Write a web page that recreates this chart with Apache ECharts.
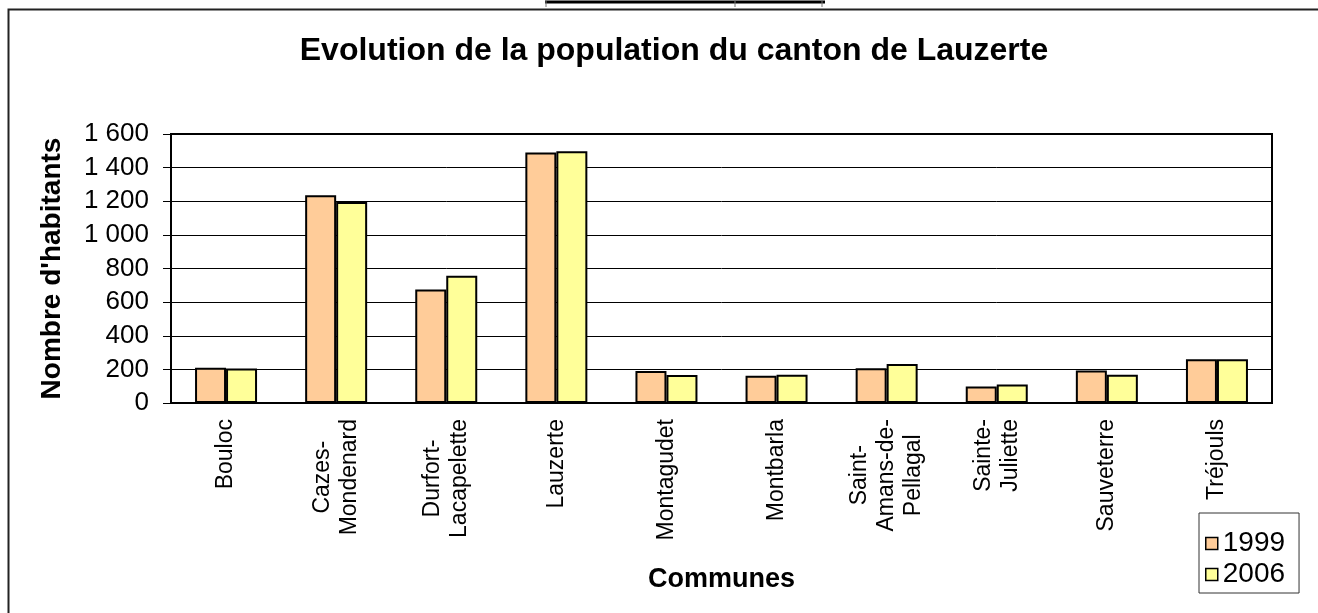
<!DOCTYPE html>
<html>
<head>
<meta charset="utf-8">
<title>Evolution de la population du canton de Lauzerte</title>
<script src="https://cdn.jsdelivr.net/npm/echarts@6/dist/echarts.min.js"></script>
<style>
  html, body { margin: 0; padding: 0; background: #fff; }
  #main { width: 1318px; height: 613px; }
</style>
</head>
<body>
<div id="main"></div>
<script>
  // communes (retour à la ligne comme dans le graphique d'origine)
  var communes = ['Bouloc', 'Cazes-\nMondenard', 'Durfort-\nLacapelette', 'Lauzerte', 'Montagudet',
    'Montbarla', 'Saint-\nAmans-de-\nPellagal', 'Sainte-\nJuliette', 'Sauveterre', 'Tréjouls'];
  // nombre d'habitants
  var pop1999 = [210, 1235, 675, 1490, 190, 162, 206, 98, 194, 260];
  var pop2006 = [205, 1195, 757, 1498, 166, 168, 232, 110, 168, 260];
  var annees = ['1999', '2006'];
  var yMin = 0, yMax = 1600, yStep = 200;

  var police = '"Liberation Sans", Arial, sans-serif';

  // 1600 -> "1 600"
  function milliers(v) {
    if (v < 1000) return String(v);
    var r = String(v % 1000);
    while (r.length < 3) r = '0' + r;
    return Math.floor(v / 1000) + ' ' + r;
  }

  var myChart = echarts.init(document.getElementById('main'));
  myChart.setOption({
    backgroundColor: '#fff',
    animation: false,
    title: {
      text: 'Evolution de la population du canton de Lauzerte',
      left: 669,
      top: 30,
      textAlign: 'center',
      textStyle: { fontFamily: police, fontSize: 32, fontWeight: 'bold', color: '#000' }
    },
    legend: {
      orient: 'vertical',
      left: 1199,
      top: 513,
      padding: [16, 14, 4, 6],
      itemGap: 2,
      itemWidth: 12,
      itemHeight: 12,
      borderColor: '#333',
      borderWidth: 1,
      icon: 'rect',
      itemStyle: { borderColor: '#000', borderWidth: 1.5 },
      textStyle: { fontFamily: police, fontSize: 28, color: '#000', lineHeight: 29 },
      data: annees
    },
    grid: {
      left: 171, right: 46, top: 134, bottom: 210,
      show: true,
      borderColor: '#000',
      borderWidth: 2
    },
    xAxis: {
      type: 'category',
      data: communes,
      name: 'Communes',
      nameLocation: 'middle',
      nameGap: 163,
      nameTextStyle: { fontFamily: police, fontSize: 27, fontWeight: 'bold', color: '#000' },
      axisLine: { lineStyle: { color: '#000', width: 2 } },
      axisTick: { length: 7, lineStyle: { color: '#333' } },
      axisLabel: {
        rotate: 90,
        margin: 16,
        interval: 0,
        color: '#000',
        fontFamily: police,
        fontSize: 23,
        lineHeight: 27,
        formatter: function (v) {
          return v.split('\n').map(function (s) { return '{c|' + s + '}'; }).join('\n');
        },
        rich: {
          c: { align: 'center', fontFamily: police, fontSize: 23, lineHeight: 27, color: '#000' }
        }
      }
    },
    yAxis: {
      type: 'value',
      min: yMin,
      max: yMax,
      interval: yStep,
      name: "Nombre d'habitants",
      nameLocation: 'middle',
      nameGap: 105,
      nameTextStyle: { fontFamily: police, fontSize: 28, fontWeight: 'bold', color: '#000' },
      axisLine: { show: true, lineStyle: { color: '#000', width: 2 } },
      axisTick: { show: true, length: 8, lineStyle: { color: '#000' } },
      splitLine: { lineStyle: { color: '#000', width: 1 } },
      axisLabel: {
        margin: 22,
        color: '#000',
        fontFamily: police,
        fontSize: 26,
        formatter: milliers
      }
    },
    series: [
      {
        name: annees[0],
        type: 'bar',
        data: pop1999,
        barWidth: 31,
        barGap: '0%',
        itemStyle: { color: '#FFCC99', borderColor: '#000', borderWidth: 2 }
      },
      {
        name: annees[1],
        type: 'bar',
        data: pop2006,
        barWidth: 31,
        barGap: '0%',
        itemStyle: { color: '#FFFF99', borderColor: '#000', borderWidth: 2 }
      }
    ],
    // cadre du graphique et bout de tableau coupé en haut de la page
    graphic: [
      {
        type: 'rect',
        silent: true,
        shape: { x: 8.5, y: 9.5, width: 1400, height: 700 },
        style: { fill: null, stroke: '#222', lineWidth: 2 }
      },
      {
        type: 'line',
        silent: true,
        shape: { x1: 545, y1: 2, x2: 825, y2: 2 },
        style: { stroke: '#000', lineWidth: 3 }
      },
      {
        type: 'polyline',
        silent: true,
        shape: { points: [[546, 0], [546, 7]] },
        style: { fill: null, stroke: '#777', lineWidth: 1 }
      },
      {
        type: 'polyline',
        silent: true,
        shape: { points: [[735, 0], [735, 7]] },
        style: { fill: null, stroke: '#777', lineWidth: 1 }
      },
      {
        type: 'polyline',
        silent: true,
        shape: { points: [[822, 0], [822, 7]] },
        style: { fill: null, stroke: '#777', lineWidth: 1 }
      }
    ]
  });
</script>
</body>
</html>
